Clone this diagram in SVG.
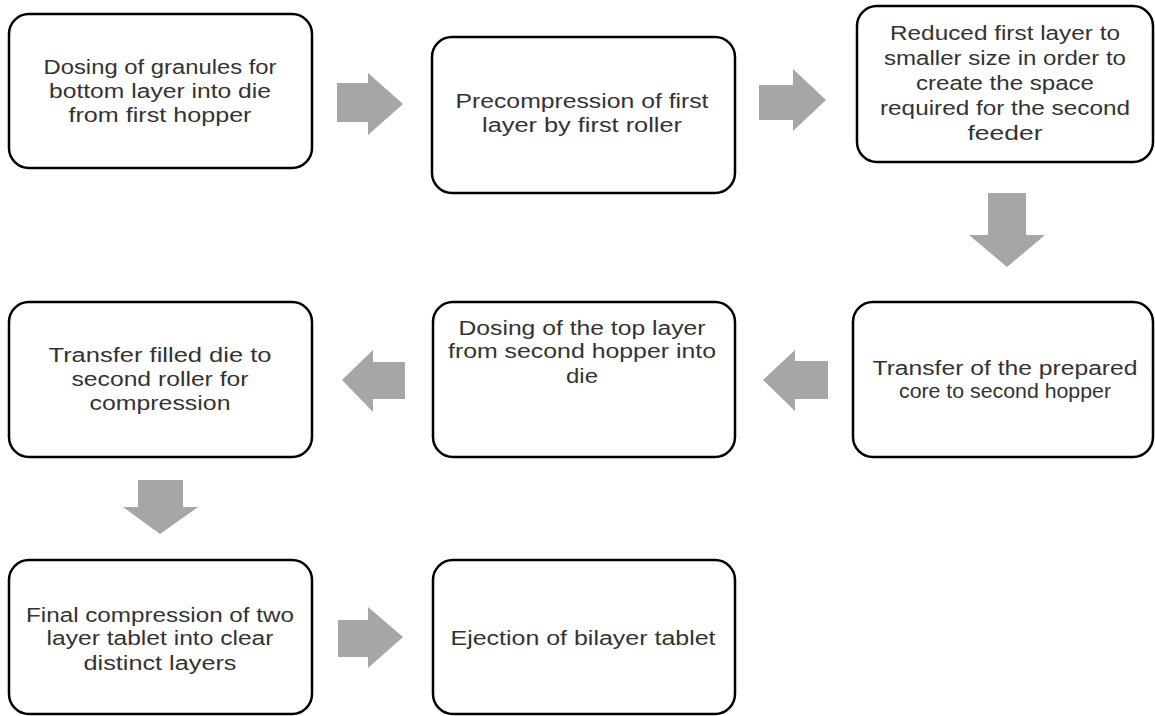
<svg xmlns="http://www.w3.org/2000/svg" width="1155" height="716" viewBox="0 0 1155 716">
<style>
.box{fill:#fff;stroke:#000;stroke-width:2.5}
.arr{fill:#a6a6a6;stroke:none}
text{font-family:"Liberation Sans",Arial,sans-serif;font-size:20px;fill:#333;text-anchor:middle}
</style>
<rect width="1155" height="716" fill="#fff"/>
<g id="connectors">
<polygon class="arr" points="337,83 368,83 368,73 403,104 368,135 368,122 337,122"/>
<polygon class="arr" points="759,85 793,85 793,69 826,100 793,131 793,120 759,120"/>
<polygon class="arr" points="988,193 1026,193 1026,235 1045,235 1007,267 969,235 988,235"/>
<polygon class="arr" points="828,361 795,361 795,350 763,380 795,411 795,399 828,399"/>
<polygon class="arr" points="405,362 373,362 373,350 342,380 373,412 373,399 405,399"/>
<polygon class="arr" points="138,480 183,480 183,507 198,507 160,534 123,507 138,507"/>
<polygon class="arr" points="338,620 368,620 368,607 403,637 368,668 368,657 338,657"/>
</g>
<g id="n1">
<rect class="box" x="9" y="14" width="303" height="154" rx="20"/>
<text x="160" y="74" textLength="233" lengthAdjust="spacingAndGlyphs">Dosing of granules for</text>
<text x="160" y="98" textLength="222" lengthAdjust="spacingAndGlyphs">bottom layer into die</text>
<text x="160" y="122" textLength="183" lengthAdjust="spacingAndGlyphs">from first hopper</text>
</g>
<g id="n2">
<rect class="box" x="432" y="37" width="303" height="156" rx="20"/>
<text x="582" y="108" textLength="253" lengthAdjust="spacingAndGlyphs">Precompression of first</text>
<text x="582" y="132" textLength="200" lengthAdjust="spacingAndGlyphs">layer by first roller</text>
</g>
<g id="n3">
<rect class="box" x="857" y="6" width="296" height="156" rx="20"/>
<text x="1005" y="40" textLength="230" lengthAdjust="spacingAndGlyphs">Reduced first layer to</text>
<text x="1005" y="65" textLength="242" lengthAdjust="spacingAndGlyphs">smaller size in order to</text>
<text x="1005" y="90" textLength="178" lengthAdjust="spacingAndGlyphs">create the space</text>
<text x="1005" y="115" textLength="250" lengthAdjust="spacingAndGlyphs">required for the second</text>
<text x="1005" y="140" textLength="75" lengthAdjust="spacingAndGlyphs">feeder</text>
</g>
<g id="n4">
<rect class="box" x="853" y="302" width="300" height="155" rx="20"/>
<text x="1005" y="375" textLength="265" lengthAdjust="spacingAndGlyphs">Transfer of the prepared</text>
<text x="1005" y="398" textLength="212" lengthAdjust="spacingAndGlyphs">core to second hopper</text>
</g>
<g id="n5">
<rect class="box" x="433" y="302" width="302" height="155" rx="20"/>
<text x="582" y="335" textLength="247" lengthAdjust="spacingAndGlyphs">Dosing of the top layer</text>
<text x="582" y="358" textLength="268" lengthAdjust="spacingAndGlyphs">from second hopper into</text>
<text x="582" y="383" textLength="32" lengthAdjust="spacingAndGlyphs">die</text>
</g>
<g id="n6">
<rect class="box" x="9" y="302" width="303" height="155" rx="20"/>
<text x="160" y="362" textLength="223" lengthAdjust="spacingAndGlyphs">Transfer filled die to</text>
<text x="160" y="386" textLength="177" lengthAdjust="spacingAndGlyphs">second roller for</text>
<text x="160" y="410" textLength="141" lengthAdjust="spacingAndGlyphs">compression</text>
</g>
<g id="n7">
<rect class="box" x="9" y="560" width="303" height="154" rx="20"/>
<text x="160" y="622" textLength="268" lengthAdjust="spacingAndGlyphs">Final compression of two</text>
<text x="160" y="645" textLength="227" lengthAdjust="spacingAndGlyphs">layer tablet into clear</text>
<text x="160" y="670" textLength="153" lengthAdjust="spacingAndGlyphs">distinct layers</text>
</g>
<g id="n8">
<rect class="box" x="433" y="560" width="302" height="154" rx="20"/>
<text x="583" y="645" textLength="265" lengthAdjust="spacingAndGlyphs">Ejection of bilayer tablet</text>
</g>
</svg>
